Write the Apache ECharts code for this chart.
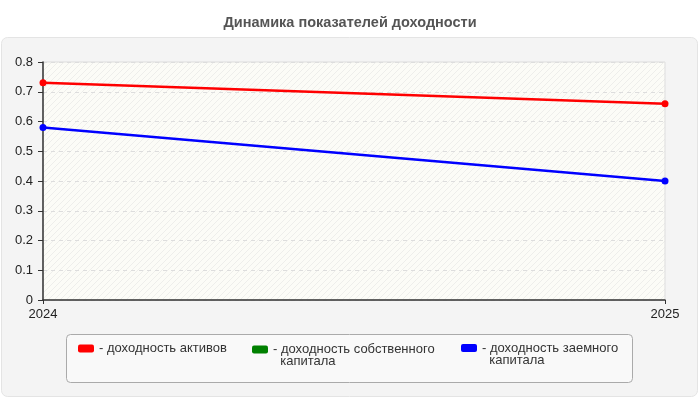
<!DOCTYPE html>
<html>
<head>
<meta charset="UTF-8">
<title>Динамика показателей доходности</title>
<script src="https://cdn.jsdelivr.net/npm/echarts@6/dist/echarts.min.js"></script>
<style>
  html, body { margin: 0; padding: 0; background: #fff; }
  #main { width: 700px; height: 400px; }
</style>
</head>
<body>
<div id="main"></div>
<script>
// данные
var years = ['2024', '2025'];
var seriesNames = ['доходность активов', 'доходность собственного капитала', 'доходность заемного капитала'];
var assets = [0.73, 0.66];
var equity = [];
var borrowed = [0.58, 0.40];

var FONT = '"Liberation Sans", Arial, sans-serif';

// штриховка фона области графика
function hatch() {
  var c = document.createElement('canvas');
  c.width = 6; c.height = 6;
  var g = c.getContext('2d');
  g.fillStyle = '#fcfcf7';
  g.fillRect(0, 0, 6, 6);
  g.strokeStyle = '#eeeeeb';
  g.lineWidth = 1;
  g.beginPath();
  g.moveTo(0, 6); g.lineTo(6, 0);
  g.moveTo(-3, 3); g.lineTo(3, -3);
  g.moveTo(3, 9); g.lineTo(9, 3);
  g.stroke();
  return c;
}

var myChart = echarts.init(document.getElementById('main'));

// легенда: каждый элемент отдельно, длинные подписи в две строки
function legendItem(name, left, top, multi) {
  return {
    data: [name],
    left: left, top: top,
    padding: 0,
    icon: 'roundRect',
    itemWidth: 16, itemHeight: 8,
    selectedMode: false,
    formatter: function (n) {
      var parts = n.split(' ');
      // пустая первая строка, чтобы значок стоял напротив первой строки текста
      if (multi) return '\n- ' + parts.slice(0, 2).join(' ') + '\n\u00a0\u00a0' + parts.slice(2).join(' ');
      return '- ' + n;
    },
    textStyle: { fontFamily: FONT, fontSize: 13, color: '#333', lineHeight: 12 }
  };
}

myChart.setOption({
  animation: false,
  title: {
    text: 'Динамика показателей доходности',
    left: 'center', top: 10,
    textStyle: { fontFamily: FONT, fontSize: 14.5, fontWeight: 'bold', color: '#555' }
  },
  graphic: [
    { type: 'rect', z: -10, shape: { x: 1.5, y: 37.5, width: 696, height: 359, r: 6 },
      style: { fill: '#f4f4f4', stroke: '#e4e4e4', lineWidth: 1 } },
    { type: 'rect', z: -5, shape: { x: 66.5, y: 334.5, width: 566, height: 48, r: 4 },
      style: { fill: '#f9f9f9', stroke: '#aaaaaa', lineWidth: 1 } }
  ],
  legend: [
    legendItem(seriesNames[0], 78, 342, false),
    legendItem(seriesNames[1], 252, 331, true),
    legendItem(seriesNames[2], 461, 329.5, true)
  ],
  grid: {
    left: 43, right: 35, top: 62, bottom: 100,
    show: true,
    backgroundColor: { image: hatch(), repeat: 'repeat' },
    borderColor: '#dddddd', borderWidth: 1
  },
  xAxis: {
    type: 'category',
    data: years,
    boundaryGap: false,
    axisLine: { lineStyle: { color: '#333', width: 1.5 } },
    axisTick: { length: 4, lineStyle: { color: '#333' } },
    axisLabel: { fontFamily: FONT, fontSize: 13, color: '#222', margin: 8 },
    splitLine: { show: false }
  },
  yAxis: {
    type: 'value',
    min: 0, max: 0.8, interval: 0.1,
    axisLine: { show: true, lineStyle: { color: '#333', width: 1.5 } },
    axisTick: { show: true, length: 5, lineStyle: { color: '#333' } },
    axisLabel: { fontFamily: FONT, fontSize: 13, color: '#222', margin: 10,
      formatter: function (v) { return String(+v.toFixed(1)); } },
    splitLine: { show: true, lineStyle: { color: '#dddddd', type: [4, 4] } }
  },
  series: [
    { name: seriesNames[0], type: 'line', data: assets, color: '#ff0000',
      symbol: 'circle', symbolSize: 7, lineStyle: { width: 2.5 } },
    { name: seriesNames[1], type: 'line', data: equity, color: '#008000',
      symbol: 'circle', symbolSize: 7, lineStyle: { width: 2.5 } },
    { name: seriesNames[2], type: 'line', data: borrowed, color: '#0000ff',
      symbol: 'circle', symbolSize: 7, lineStyle: { width: 2.5 } }
  ]
});
</script>
</body>
</html>
